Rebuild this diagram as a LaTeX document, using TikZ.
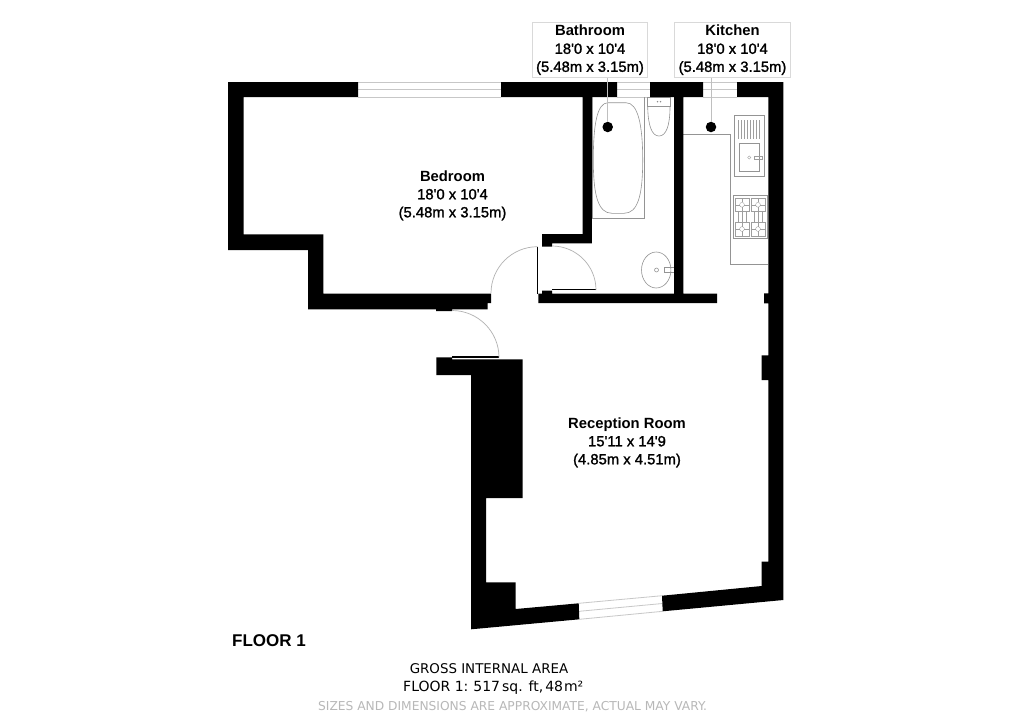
\documentclass[tikz,border=0pt]{standalone}
\usepackage{fontspec}
\setmainfont{Liberation Sans}
\newfontfamily\medf[FakeBold=1.4]{Liberation Sans}
\newfontfamily\notef{DejaVu Sans}
\tikzset{
  wall/.style={fill=black,draw=none},
  fixture/.style={draw=black!42,line width=0.6pt},
  fine/.style={draw=black!38,line width=0.35pt},
  glass/.style={draw=black!22,line width=0.8pt},
  swing/.style={draw=black!30,line width=0.7pt},
  leaf/.style={draw=black,line width=1.4pt},
  roomlabel/.style={align=center,inner sep=0pt,font=\fontsize{14.8}{18}\selectfont},
  tagbox/.style={roomlabel,draw=black!15,line width=0.7pt,fill=white,minimum width=115.4pt,minimum height=54.6pt},
  pin/.style={circle,fill=black,inner sep=0pt,minimum size=10.5pt},
  leader/.style={draw=black!25,line width=0.8pt},
  note/.style={inner sep=0pt,anchor=base,font=\notef\fontsize{13.4}{15}\selectfont}
}
\newcommand{\rname}[1]{\textbf{#1}}
\begin{document}
\begin{tikzpicture}[x=1pt,y=-1pt]
\useasboundingbox[fill=white] (0,0) rectangle (1024,724);

% windows
\foreach \y in {82,89.5,97}{
  \draw[glass] (358,\y) -- (501,\y);
  \draw[glass] (617,\y) -- (650,\y);
  \draw[glass] (703,\y) -- (737,\y);
}
\draw[glass] (578.7,603.3) -- (662,595.7);
\draw[glass] (579,611.3) -- (662.3,603.5);
\draw[glass] (579.3,619.3) -- (662.7,611.3);

% fixtures: bathroom
\draw[fixture] (592,97) -- (592,218.3) -- (644,218.3) -- (644,97);
\draw[fixture] (608,102.7) -- (626,102.7) .. controls (638,102.7) and (642.7,125) .. (642.7,160)
  .. controls (642.7,195) and (638,213.3) .. (624,213.3) -- (612,213.3)
  .. controls (598,213.3) and (593.3,195) .. (593.3,160)
  .. controls (593.3,125) and (597,102.7) .. (608,102.7) -- cycle;
\draw[fixture] (647.7,97) rectangle (670,106.7);
\draw[fixture] (647.7,106.7) .. controls (648,126) and (652,136) .. (659,136)
  .. controls (666,136) and (670,126) .. (670,106.7);
\fill[black!45] (657.5,101.7) circle (0.8pt) (660.5,101.7) circle (0.8pt);
\draw[fixture] (656.2,270) ellipse [x radius=14.7pt,y radius=18pt];
\draw[fixture] (656.5,270) circle (2pt);
\draw[fixture] (664,267.7) rectangle (674,272.7);

% fixtures: kitchen
\draw[fixture] (683.3,134) -- (730.3,134) -- (730.3,264.3) -- (768.3,264.3);
\draw[fixture] (734,115.3) rectangle (764.7,176);
\foreach \x in {738.5,741.5,...,760}{\draw[fine] (\x,120) -- (\x,139.3);}
\draw[fixture] (739.3,143.3) rectangle (759.7,171.7);
\draw[fine] (749.3,157.5) circle (1.6pt);
\draw[fine] (754,156) rectangle (762,159.3);
\draw[fixture] (733,195.3) rectangle (767,238.7);
\foreach \cx/\cy in {742/204.8,758/204.8,742/229,758/229}{
  \draw[fine] (\cx-7,\cy-6.8) rectangle (\cx+7,\cy+6.8);
  \draw[fine] (\cx,\cy) circle (2.4pt);
  \draw[fine] (\cx-7,\cy) -- (\cx-2.4,\cy) (\cx+2.4,\cy) -- (\cx+7,\cy);
}
\foreach \x in {742,758}{\draw[fine] (\x,198) -- (\x,202.4) (\x,207.2) -- (\x,226.6) (\x,231.4) -- (\x,235.8);}
\foreach \x in {738,746,754,762}{\draw[fine] (\x,212) -- (\x,222);}

% walls
\fill[wall] (228,82) -- (358,82) -- (358,97) -- (243.6,97) -- (243.6,234.3) -- (323.3,234.3)
  -- (323.3,293.5) -- (491,293.5) -- (491,303) -- (487.7,303) -- (487.7,309.3) -- (452,309.3)
  -- (452,311) -- (436,311) -- (436,309.3) -- (308,309.3) -- (308,250) -- (228,250) -- cycle;
\fill[wall] (501,82) -- (617,82) -- (617,97) -- (591.8,97) -- (591.8,243.3) -- (552,243.3)
  -- (552,246.7) -- (542,246.7) -- (542,234) -- (582.7,234) -- (582.7,97) -- (501,97) -- cycle;
\fill[wall] (650,82) -- (703,82) -- (703,97) -- (683.3,97) -- (683.3,293.7) -- (717,293.7)
  -- (717,303) -- (538.3,303) -- (538.3,293.7) -- (542,293.7) -- (542,290.7) -- (552,290.7)
  -- (552,293.7) -- (674,293.7) -- (674,97) -- (650,97) -- cycle;
\fill[wall] (737,82) -- (783.3,82) -- (783.3,600) -- (662.7,611.3) -- (662,595.7) -- (761.7,586)
  -- (761.7,561.5) -- (768.3,561.5) -- (768.3,380) -- (761.7,380) -- (761.7,355.3)
  -- (768.3,355.3) -- (768.3,303.3) -- (764,303.3) -- (764,293.3) -- (768.3,293.3)
  -- (768.3,97) -- (737,97) -- cycle;
\fill[wall] (579.3,619.3) -- (471,629.3) -- (471,375) -- (436.3,375) -- (436.3,357.3)
  -- (452,357.3) -- (452,359.3) -- (522.7,359.3) -- (522.7,498) -- (486,498) -- (486,582.3)
  -- (515.7,582.3) -- (515.7,609) -- (578.7,603.3) -- cycle;

% doors
\draw[leaf] (537.5,246.7) -- (537.5,293.7);
\draw[swing] (537.5,246.7) arc[start angle=90,end angle=180,radius=46.5pt];
\draw[leaf] (552,289.5) -- (596,289.5);
\draw[swing] (552,246) arc[start angle=90,end angle=0,radius=44pt];
\draw[leaf] (452,356.8) -- (499,356.8);
\draw[swing] (452,310.5) arc[start angle=90,end angle=0,radius=47pt];

% labels
\node[roomlabel] (bedroom) at (452.5,195.5) {\rname{Bedroom}\\ {\medf 18'0 x 10'4}\\ {\medf (5.48m x 3.15m)}};
\node[roomlabel] (reception) at (627,442.5) {\rname{Reception Room}\\ {\medf 15'11 x 14'9}\\ {\medf (4.85m x 4.51m)}};
\node[tagbox] (bathtag) at (590,50) {\rname{Bathroom}\\ {\medf 18'0 x 10'4}\\ {\medf (5.48m x 3.15m)}};
\node[tagbox] (kitchentag) at (732.5,50) {\rname{Kitchen}\\ {\medf 18'0 x 10'4}\\ {\medf (5.48m x 3.15m)}};
\node[pin] (bathpin) at (607.7,127) {};
\node[pin] (kitchenpin) at (711,127) {};
\draw[leader] (bathpin) -- (bathpin |- bathtag.south);
\draw[leader] (kitchenpin) -- (kitchenpin |- kitchentag.south);

\node[inner sep=0pt,anchor=base west,font=\fontsize{17}{20}\selectfont\bfseries] (floor) at (232,646) {FLOOR 1};
\node[note] (gross) at (489,673) {GROSS INTERNAL AREA};
\node[note,anchor=base west,font=\notef\fontsize{14}{15}\selectfont] (area) at (403,691) {FLOOR 1:\hspace{5pt}517\hspace{2pt}sq. ft,\hspace{2pt}48\hspace{1pt}m²};
\node[note,text=black!28,font=\notef\fontsize{12.25}{15}\selectfont] (disclaimer) at (512.5,710) {SIZES AND DIMENSIONS ARE APPROXIMATE, ACTUAL MAY VARY.};
\end{tikzpicture}
\end{document}
